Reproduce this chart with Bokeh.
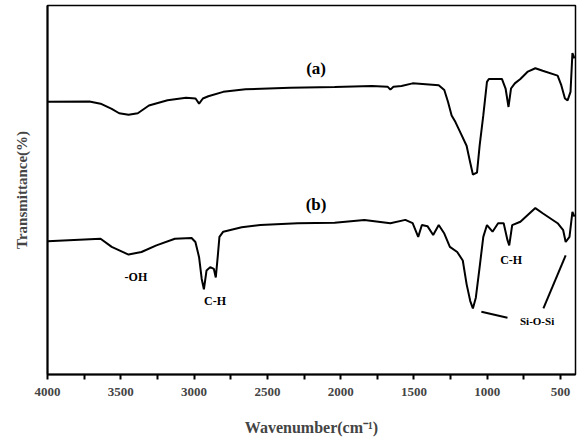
from bokeh.plotting import figure
from bokeh.models import Range1d, FixedTicker, Label
from bokeh.embed import file_html
from bokeh.resources import INLINE

# Spectrum (a)
wn_a = [4000, 3714, 3638, 3562, 3511, 3447, 3384, 3308, 3181, 3055, 2990, 2966, 2940, 2903,
        2801, 2649, 2345, 2041, 1787, 1680, 1661, 1640, 1585, 1509, 1331, 1293, 1268, 1243,
        1217, 1179, 1141, 1116, 1098, 1070, 1052, 1027, 1002, 989, 900, 875, 855, 838, 812,
        774, 723, 672, 622, 520, 495, 470, 452, 432, 419, 405]
t_a = [73.9, 74.0, 73.4, 72.0, 70.8, 70.4, 70.8, 72.9, 74.3, 75.0, 74.8, 73.4, 74.8, 75.4,
       76.6, 77.3, 77.7, 77.9, 78.2, 78.0, 77.2, 78.0, 78.2, 78.9, 78.4, 77.1, 73.9, 70.2,
       68.4, 65.2, 62.0, 57.4, 54.2, 54.7, 62.0, 70.2, 79.3, 80.1, 80.1, 77.5, 72.5, 77.5, 78.9,
       80.1, 82.1, 83.0, 82.3, 81.0, 78.4, 74.8, 74.3, 76.6, 87.1, 85.7]

# Spectrum (b)
wn_b = [4000, 3638, 3562, 3447, 3359, 3257, 3131, 3017, 2991, 2966, 2948, 2933, 2915, 2890,
        2865, 2852, 2839, 2827, 2801, 2675, 2548, 2294, 2041, 1838, 1661, 1559, 1509, 1471,
        1446, 1408, 1369, 1331, 1293, 1255, 1205, 1167, 1141, 1116, 1098, 1078, 1052, 1027,
        1002, 964, 926, 888, 862, 850, 830, 774, 672, 622, 520, 482, 465, 439, 419, 405]
t_b = [36.1, 36.8, 34.6, 32.5, 33.2, 35.0, 36.8, 37.0, 35.9, 31.8, 25.9, 23.1, 28.2, 29.1,
       28.6, 26.3, 31.8, 37.3, 38.7, 39.9, 40.5, 41.0, 41.1, 41.9, 41.0, 41.9, 41.0, 37.3,
       40.5, 40.2, 37.8, 40.5, 38.2, 34.6, 33.2, 30.9, 24.5, 19.9, 17.9, 20.8, 29.1, 37.3,
       40.5, 38.7, 41.0, 41.0, 36.4, 35.0, 40.5, 41.4, 45.1, 43.7, 41.0, 39.1, 35.9, 37.3, 44.1, 42.8]

x_ticks = [4000, 3500, 3000, 2500, 2000, 1500, 1000, 500]
x_minor = [3750, 3250, 2750, 2250, 1750, 1250, 750]

# annotations
ann_text = ["(a)", "(b)", "-OH", "C-H", "C-H", "Si-O-Si"]
ann_x = [2168, 2168, 3397, 2857, 837, 660]
ann_y = [83.0, 46.0, 26.3, 19.9, 30.9, 14.6]
ann_size = ["17px", "17px", "12px", "12px", "12px", "11px"]

lead1_x = [1040, 862]
lead1_y = [17.0, 15.4]
lead2_x = [617, 465]
lead2_y = [17.9, 32.3]

FONT = "Liberation Serif"

p = figure(width=579, height=443, output_backend="svg", toolbar_location=None,
           x_range=Range1d(4000, 398), y_range=Range1d(0, 100),
           min_border_left=47, min_border_right=4, min_border_top=5, min_border_bottom=69)
p.grid.visible = False
p.outline_line_color = "black"
p.outline_line_width = 1.5
p.background_fill_color = "white"
p.border_fill_color = "white"

p.line(wn_a, t_a, line_color="black", line_width=2)
p.line(wn_b, t_b, line_color="black", line_width=2)
p.line(lead1_x, lead1_y, line_color="black", line_width=2)
p.line(lead2_x, lead2_y, line_color="black", line_width=2)

for t, x, y, s in zip(ann_text, ann_x, ann_y, ann_size):
    p.add_layout(Label(x=x, y=y, text=t, text_font=FONT, text_font_size=s,
                       text_font_style="bold", text_align="center", text_baseline="middle",
                       text_color="black"))

xa = p.xaxis[0]
xa.ticker = FixedTicker(ticks=x_ticks, minor_ticks=x_minor)
xa.major_tick_out = 5
xa.major_tick_in = 0
xa.minor_tick_out = 5
xa.minor_tick_in = 0
xa.major_tick_line_width = 2
xa.minor_tick_line_width = 2
xa.axis_line_width = 2
xa.major_label_text_font = FONT
xa.major_label_text_font_style = "bold"
xa.major_label_text_font_size = "13px"
xa.major_label_standoff = 8
xa.axis_label = "Wavenumber(cm⁻¹)"
xa.axis_label_text_font = FONT
xa.axis_label_text_font_style = "bold"
xa.axis_label_text_font_size = "16px"
xa.axis_label_standoff = 20

ya = p.yaxis[0]
ya.ticker = FixedTicker(ticks=[])
ya.major_tick_out = 0
ya.minor_tick_out = 0
ya.axis_line_width = 2
ya.major_label_text_font_size = "0px"
ya.axis_label = "Transmittance(%)"
ya.axis_label_text_font = FONT
ya.axis_label_text_font_style = "bold"
ya.axis_label_text_font_size = "15px"
ya.axis_label_standoff = 18

open("out.html", "w").write(file_html(p, INLINE))
